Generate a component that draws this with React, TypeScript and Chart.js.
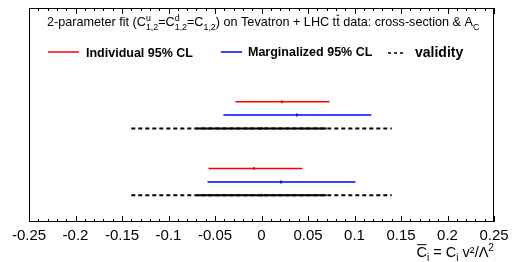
import React, { useEffect, useRef } from "react";
import { Chart, registerables } from "chart.js";
Chart.register(...registerables);

const xMin = -0.25;
const xMax = 0.25;
const xTickStep = 0.05;
const xMinorStep = 0.01;

const rowsIndividual = [9, 4];
const rowsMarginalized = [8, 3];
const rowsValidity = [7, 2];

const individualLow = [-0.028, -0.057];
const individualHigh = [0.073, 0.044];
const individualBest = [0.022, -0.008];

const marginalizedLow = [-0.041, -0.058];
const marginalizedHigh = [0.118, 0.101];
const marginalizedBest = [0.038, 0.021];

const validityOuter = [0.14, 0.14];
const validityInner = [0.07, 0.07];
const validityBest = [0, 0];

const FONT = "'Liberation Sans', Arial, sans-serif";

type Seg = { t?: string; sup?: string; sub?: string; bar?: boolean };

function segWidth(ctx: CanvasRenderingContext2D, s: Seg, size: number, weight: string) {
  let w = 0;
  if (s.t) {
    ctx.font = `${weight} ${size}px ${FONT}`;
    w += ctx.measureText(s.t).width;
  }
  let ws = 0;
  ctx.font = `${weight} ${size * 0.7}px ${FONT}`;
  if (s.sup) ws = Math.max(ws, ctx.measureText(s.sup).width);
  if (s.sub) ws = Math.max(ws, ctx.measureText(s.sub).width);
  return w + ws;
}

function richWidth(ctx: CanvasRenderingContext2D, segs: Seg[], size: number, weight = "normal") {
  return segs.reduce((a, s) => a + segWidth(ctx, s, size, weight), 0);
}

function drawRich(ctx: CanvasRenderingContext2D, x: number, y: number, segs: Seg[], size: number, weight = "normal") {
  let cx = x;
  ctx.textBaseline = "alphabetic";
  ctx.textAlign = "left";
  for (const s of segs) {
    if (s.t) {
      ctx.font = `${weight} ${size}px ${FONT}`;
      ctx.fillText(s.t, cx, y);
      const w = ctx.measureText(s.t).width;
      if (s.bar) {
        const lw = ctx.measureText(s.t[s.t.length - 1]).width;
        ctx.save();
        ctx.lineWidth = 1;
        ctx.beginPath();
        ctx.moveTo(cx + w - lw + 0.5, y - size * 0.85);
        ctx.lineTo(cx + w - 0.5, y - size * 0.85);
        ctx.stroke();
        ctx.restore();
      }
      cx += w;
    }
    ctx.font = `${weight} ${size * 0.7}px ${FONT}`;
    let ws = 0;
    if (s.sup) {
      ctx.fillText(s.sup, cx, y - size * 0.42);
      ws = Math.max(ws, ctx.measureText(s.sup).width);
    }
    if (s.sub) {
      ctx.fillText(s.sub, cx, y + size * 0.28);
      ws = Math.max(ws, ctx.measureText(s.sub).width);
    }
    cx += ws;
  }
  return cx - x;
}

const titleSegs: Seg[] = [
  { t: "2-parameter fit (C", sup: "u", sub: "1,2" },
  { t: "=C", sup: "d", sub: "1,2" },
  { t: "=C", sub: "1,2" },
  { t: ") on Tevatron + LHC tt", bar: true },
  { t: " data: cross-section & A", sub: "C" },
];

const axisSegs: Seg[] = [
  { t: "C", bar: true, sub: "i" },
  { t: " = C", sub: "i" },
  { t: " v\u00b2/\u039b", sup: "2" },
];

const decorPlugin = {
  id: "decor",
  afterDraw(chart: any) {
    const ctx: CanvasRenderingContext2D = chart.ctx;
    const { left, right, top, bottom } = chart.chartArea;
    const xs = chart.scales.x;
    ctx.save();
    ctx.strokeStyle = "#000";
    ctx.fillStyle = "#000";
    ctx.lineWidth = 1;
    ctx.strokeRect(Math.round(left) + 0.5, Math.round(top) + 0.5, Math.round(right - left) - 1, Math.round(bottom - top) - 1);
    const n = Math.round((xMax - xMin) / xMinorStep);
    const per = Math.round(xTickStep / xMinorStep);
    ctx.beginPath();
    for (let i = 0; i <= n; i++) {
      const v = xMin + i * xMinorStep;
      const px = Math.round(xs.getPixelForValue(v)) + 0.5;
      const len = i % per === 0 ? 6 : 3;
      ctx.moveTo(px, bottom);
      ctx.lineTo(px, bottom - len);
      ctx.moveTo(px, top);
      ctx.lineTo(px, top + len);
    }
    ctx.stroke();

    // title
    const tw = richWidth(ctx, titleSegs, 12);
    const tsize = 12 * (433 / tw);
    drawRich(ctx, 47, 26, titleSegs, tsize);

    // legend
    ctx.lineWidth = 1.5;
    ctx.strokeStyle = "#ff0000";
    ctx.beginPath();
    ctx.moveTo(48, 52);
    ctx.lineTo(79, 52);
    ctx.stroke();
    ctx.strokeStyle = "#0000ff";
    ctx.beginPath();
    ctx.moveTo(221, 52);
    ctx.lineTo(242, 52);
    ctx.stroke();
    ctx.strokeStyle = "#000";
    ctx.lineWidth = 1.5;
    ctx.setLineDash([3, 3]);
    ctx.beginPath();
    ctx.moveTo(388, 53);
    ctx.lineTo(406, 53);
    ctx.stroke();
    ctx.setLineDash([]);

    ctx.font = `bold 12.5px ${FONT}`;
    ctx.textAlign = "left";
    ctx.textBaseline = "alphabetic";
    ctx.fillText("Individual 95% CL", 86, 57);
    ctx.fillText("Marginalized 95% CL", 248, 56);
    ctx.font = `bold 14px ${FONT}`;
    ctx.fillText("validity", 415, 57);

    // axis title
    const asz = 14.5;
    const aw = richWidth(ctx, axisSegs, asz);
    drawRich(ctx, 494 - aw, 257, axisSegs, asz);
    ctx.restore();
  },
};

function errDatasets(lows: number[], highs: number[], best: number[], rows: number[], color: string) {
  const ds: any[] = [];
  rows.forEach((y, i) => {
    ds.push({
      data: [
        { x: lows[i], y },
        { x: highs[i], y },
      ],
      showLine: true,
      borderColor: color,
      borderWidth: 1.5,
      pointRadius: 0,
    });
    ds.push({
      data: [{ x: best[i], y }],
      pointStyle: "line",
      rotation: 90,
      pointRadius: 1.5,
      borderColor: color,
      borderWidth: 1.5,
    });
  });
  return ds;
}

function validityDatasets() {
  const ds: any[] = [];
  rowsValidity.forEach((y, i) => {
    ds.push({
      data: [
        { x: -validityOuter[i], y },
        { x: validityOuter[i], y },
      ],
      showLine: true,
      borderColor: "#000",
      borderWidth: 2,
      borderDash: [4, 3],
      pointRadius: 0,
    });
    ds.push({
      data: [
        { x: -validityInner[i], y },
        { x: validityInner[i], y },
      ],
      showLine: true,
      borderColor: "#000",
      borderWidth: 2,
      pointRadius: 0,
    });
    ds.push({
      data: [{ x: validityBest[i], y }],
      pointStyle: "line",
      rotation: 90,
      pointRadius: 1.5,
      borderColor: "#444",
      borderWidth: 1.5,
    });
  });
  return ds;
}

export default function App() {
  const ref = useRef<HTMLCanvasElement | null>(null);
  useEffect(() => {
    if (!ref.current) return;
    const chart = new Chart(ref.current, {
      type: "scatter",
      data: {
        datasets: [
          ...errDatasets(individualLow, individualHigh, individualBest, rowsIndividual, "#ff0000"),
          ...errDatasets(marginalizedLow, marginalizedHigh, marginalizedBest, rowsMarginalized, "#0000ff"),
          ...validityDatasets(),
        ],
      },
      options: {
        animation: false,
        responsive: false,
        maintainAspectRatio: false,
        layout: { padding: { left: 29, right: 19, top: 8, bottom: 0 } },
        plugins: { legend: { display: false }, tooltip: { enabled: false } },
        scales: {
          x: {
            type: "linear",
            min: xMin,
            max: xMax,
            grid: { display: false },
            border: { display: false },
            ticks: {
              stepSize: xTickStep,
              color: "#000",
              padding: -3,
              font: { family: "'Liberation Sans', Arial, sans-serif", size: 15 },
              callback: (v: any) => String(Math.round(Number(v) * 100) / 100),
            },
            afterFit: (s: any) => {
              s.height = 40;
            },
          },
          y: { type: "linear", min: 0, max: 16, display: false },
        },
      },
      plugins: [decorPlugin],
    });
    return () => chart.destroy();
  }, []);
  return (
    <div style={{ position: "fixed", left: 0, top: 0, width: 513, height: 262, background: "#fff" }}>
      <canvas ref={ref} width={513} height={262} style={{ width: 513, height: 262 }} />
    </div>
  );
}
